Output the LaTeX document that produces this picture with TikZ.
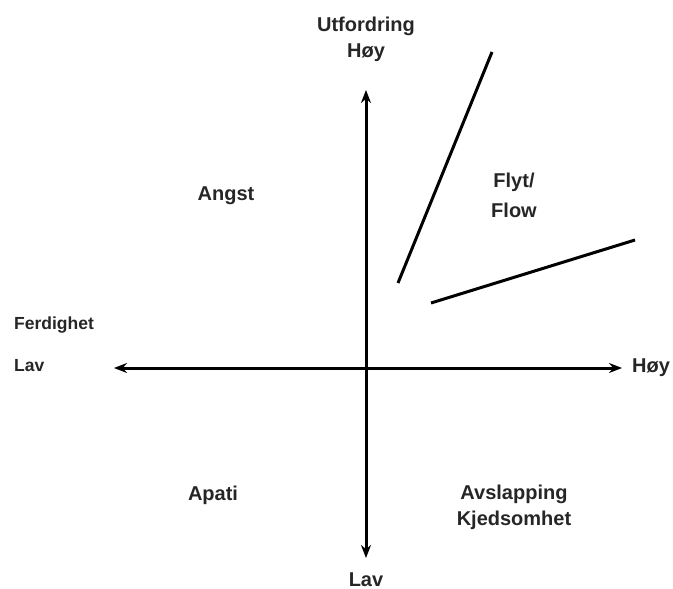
\documentclass[tikz,border=0pt]{standalone}
\usepackage{fontspec}
\setmainfont{Liberation Sans}
\usetikzlibrary{arrows.meta}
\begin{document}
\begin{tikzpicture}[x=1pt,y=-1pt,
  lbl/.style={font=\fontsize{20}{26}\selectfont\bfseries, text=black!85, inner sep=0pt, align=center},
  sm/.style={font=\fontsize{17.5}{20}\selectfont\bfseries, text=black!85, inner sep=0pt, anchor=west},
  axis/.style={line width=3pt, -{Stealth[length=13pt,width=10pt]}},
  flowline/.style={line width=3pt}]
\path[use as bounding box] (0,0) rectangle (673,589);
\coordinate (o) at (366,368);
\coordinate (left) at (114,368);
\coordinate (right) at (622,368);
\coordinate (top) at (366,90);
\coordinate (bot) at (366,558);
\draw[axis] (o) -- (left);
\draw[axis] (o) -- (right);
\draw[axis] (o) -- (top);
\draw[axis] (o) -- (bot);
\coordinate (a1) at (398,283);
\coordinate (a2) at (492,52);
\coordinate (b1) at (431,303);
\coordinate (b2) at (635,240);
\draw[flowline] (a1) -- (a2);
\draw[flowline] (b1) -- (b2);
\node[lbl] (utf) at (366,39) {Utfordring\\Høy};
\node[lbl] (angst) at (226,196) {Angst};
\node[lbl] (flyt) at (514,195) {Flyt/\\[4pt]Flow};
\node[sm] (ferd) at (14,325) {Ferdighet};
\node[sm] (lavl) at (14,366) {Lav};
\node[lbl, anchor=west] (hoyr) at (632,368) {Høy};
\node[lbl] (apati) at (213,495) {Apati};
\node[lbl] (avsl) at (514,507) {Avslapping\\Kjedsomhet};
\node[lbl, anchor=base] (lavb) at (366,586) {Lav};
\end{tikzpicture}
\end{document}
